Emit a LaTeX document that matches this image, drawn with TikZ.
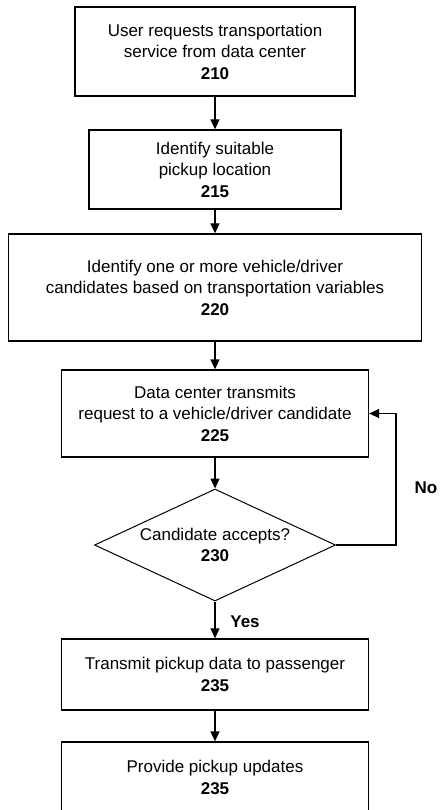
\documentclass[tikz,border=0pt]{standalone}
\usepackage{fontspec}
\setmainfont{Liberation Sans}
\usetikzlibrary{shapes.geometric,arrows.meta}
\begin{document}
\begin{tikzpicture}[x=1pt,y=-1pt,
  stepbox/.style={draw, line width=1.3pt, align=center, inner sep=0pt,
    font=\fontsize{17}{21.5}\selectfont},
  decision/.style={draw, diamond, line width=1pt, inner sep=0pt,
    minimum width=241pt, minimum height=112pt},
  steptext/.style={align=center, inner sep=0pt, font=\fontsize{17}{21.5}\selectfont},
  flow/.style={line width=1.3pt, -{Triangle[length=10pt,width=9pt]}},
  tag/.style={inner sep=0pt, font=\fontsize{17}{21}\selectfont\bfseries}
]
\useasboundingbox (0,0) rectangle (440,810);
\clip (0,0) rectangle (440,810);

% process steps
\node[stepbox, minimum width=280pt, minimum height=89pt] (b210) at (215,51.5)
  {User requests transportation\\service from data center\\\textbf{210}};
\node[stepbox, minimum width=252pt, minimum height=79pt] (b215) at (215,169.5)
  {Identify suitable\\pickup location\\\textbf{215}};
\node[stepbox, minimum width=413pt, minimum height=107pt] (b220) at (215,287.5)
  {Identify one or more vehicle/driver\\candidates based on transportation variables\\\textbf{220}};
\node[stepbox, minimum width=307pt, minimum height=87pt] (b225) at (215,413.5)
  {Data center transmits\\request to a vehicle/driver candidate\\\textbf{225}};

% decision
\node[decision] (d230) at (215,545) {};
\node[steptext] (t230) at (d230) {Candidate accepts?\\\textbf{230}};

\node[stepbox, minimum width=307pt, minimum height=71pt] (b235a) at (215,674.5)
  {Transmit pickup data to passenger\\\textbf{235}};
\node[stepbox, minimum width=307pt, minimum height=71pt] (b235b) at (215,777.5)
  {Provide pickup updates\\\textbf{235}};

% connectors
\draw[flow] (b210) -- (b215);
\draw[flow] (b215) -- (b220);
\draw[flow] (b220) -- (b225);
\draw[flow] (b225) -- (d230);
\draw[flow] (d230) -- (b235a);
\draw[flow] (b235a) -- (b235b);
\coordinate (loop) at (396,545);
\draw[flow] (d230.east) -- (loop) |- (b225.east);

% branch labels
\node[tag] (yes) at (245,622) {Yes};
\node[tag] (no) at (426,488) {No};
\end{tikzpicture}
\end{document}
